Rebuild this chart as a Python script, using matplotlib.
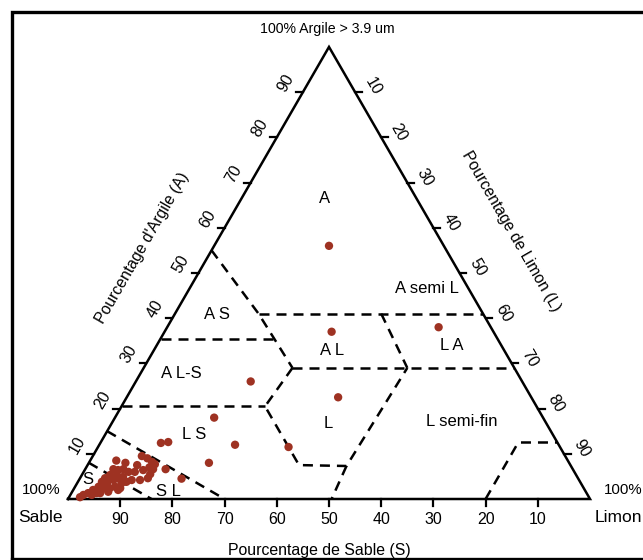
import numpy as np
import matplotlib
matplotlib.use('Agg')
import matplotlib.pyplot as plt

plt.rcParams['font.family'] = ['Liberation Sans', 'DejaVu Sans']

# samples: % sable (S), % argile (A); limon = 100 - S - A
sand = [22, 31, 10, 52, 37, 63, 62, 52, 69, 76, 76, 74.5, 78,
        81.1, 80.3, 79.8, 79.5, 80.9, 82.4, 80.4, 82.4, 84.1, 84.2,
        85.4, 86.1, 87.2, 88.0, 89.3, 90.6, 91.6, 90.8, 89.2, 88.1,
        88.0, 89.6, 90.8, 92.0, 92.8, 94.2, 95.5, 96.6, 97.5, 95.0,
        93.9, 88.8, 86.9, 85.7, 87.0, 88.0, 89.3, 89.4, 91.5, 93.2,
        83.0, 85.0, 81.5, 86.5]
clay = [56, 37, 38, 26, 22.5, 18, 12, 11.5, 8, 4.5, 12.4, 12.6, 6.6,
        9.5, 9.0, 8.2, 7.7, 7.0, 6.4, 6.6, 4.6, 4.2, 6.0,
        6.0, 6.6, 6.4, 6.6, 5.3, 4.6, 3.8, 3.5, 4.2, 4.6,
        3.5, 2.7, 2.4, 2.4, 2.7, 2.0, 1.3, 0.9, 0.4, 0.9,
        1.3, 2.4, 3.8, 4.2, 4.9, 5.3, 4.6, 2.0, 1.6, 1.3,
        7.5, 8.0, 5.5, 8.5]

# class boundaries as (S, A) polylines
bounds = [
    [(45, 55), (43, 41), (42.5, 29)],
    [(43, 41), (0, 41)],
    [(64.5, 35.5), (42.8, 35.5)],
    [(42.5, 29), (0, 29)],
    [(42.5, 29), (52, 20.5), (52, 7.5), (43, 7.3), (20.5, 29)],
    [(43, 7.3), (49.5, 0)],
    [(19.5, 41), (20.5, 29)],
    [(79.5, 20.5), (52, 20.5)],
    [(85, 15), (70, 0)],
    [(92, 8), (84, 0)],
    [(20, 0), (7.5, 12.5), (0, 12.5)],
]

class_names = ['A', 'A semi L', 'A S', 'A L', 'L A', 'A L-S', 'L',
               'L semi-fin', 'L S', 'S L', 'S']
class_pos = [(49.2, 57.5), (68.8, 40.4), (28.5, 35.4), (50.6, 28.5),
             (73.6, 29.5), (21.8, 24.0), (49.8, 14.4), (75.5, 14.8),
             (24.1, 12.3), (19.2, 1.5), (3.8, 3.8)]

ticks = [10, 20, 30, 40, 50, 60, 70, 80, 90]
H = np.sqrt(3) / 2
FS = 11.5


def tern(s, a):
    s = np.asarray(s, float)
    a = np.asarray(a, float)
    return 100 - s - a / 2, a * H


fig = plt.figure(figsize=(6.43, 5.6), dpi=100)
ax = fig.add_axes([0, 0, 1, 1])
ax.set_xlim(-68 / 5.22, (643 - 68) / 5.22)
ax.set_ylim((499 - 560) / 5.22, 499 / 5.22)
ax.axis('off')

# frame
ax.plot([-10.73, -10.73, 130], [-11.49, 93.3, 93.3], color='black', lw=2.4,
        solid_joinstyle='miter', clip_on=False)
ax.plot([-10.73, 130], [-11.49, -11.49], color='black', lw=2.4)

# triangle
ax.plot([0, 100, 50, 0], [0, 0, 100 * H, 0], color='black', lw=1.8,
        solid_joinstyle='miter')

tl = 1.3
for t in ticks:
    # bottom: sable
    x, y = tern(t, 0)
    ax.plot([x, x], [0, -tl], color='black', lw=1.6)
    ax.text(x, -4.0, str(t), ha='center', va='center', fontsize=FS)
    # left: argile
    x, y = tern(100 - t, t)
    ax.plot([x, x - tl], [y, y], color='black', lw=1.6)
    ax.text(x - 3.3, y + 1.7, str(t), ha='center', va='center', fontsize=FS,
            rotation=60, rotation_mode='anchor')
    # right: limon
    x, y = tern(0, 100 - t)
    ax.plot([x, x + tl], [y, y], color='black', lw=1.6)
    ax.text(x + 3.4, y + 1.0, str(t), ha='center', va='center', fontsize=FS,
            rotation=-60, rotation_mode='anchor')

for b in bounds:
    s, a = zip(*b)
    x, y = tern(s, a)
    ax.plot(x, y, color='black', lw=1.8, linestyle=(0, (4, 2.8)))

for name, (x, y) in zip(class_names, class_pos):
    ax.text(x, y, name, ha='center', va='center', fontsize=12)

x, y = tern(sand, clay)
ax.scatter(x, y, s=36, color='#9e3222', edgecolors='none', zorder=5,
           clip_on=False)

ax.text(49.6, 90.0, '100% Argile > 3.9 um', ha='center', va='center',
        fontsize=10.2)
ax.text(-5.2, 1.7, '100%', ha='center', va='center', fontsize=10.8)
ax.text(-5.3, -3.45, 'Sable', ha='center', va='center', fontsize=12.5)
ax.text(106.3, 1.7, '100%', ha='center', va='center', fontsize=10.8)
ax.text(105.4, -3.45, 'Limon', ha='center', va='center', fontsize=12.5)
ax.text(48.2, -9.9, 'Pourcentage de Sable (S)', ha='center', va='center',
        fontsize=11.4)
ax.text(14.2, 48.1, "Pourcentage d'Argile (A)", ha='center', va='center',
        fontsize=11.3, rotation=60, rotation_mode='anchor')
ax.text(84.9, 51.2, 'Pourcentage de Limon (L)', ha='center', va='center',
        fontsize=11.3, rotation=-60, rotation_mode='anchor')

fig.savefig('out.png', dpi=100)
